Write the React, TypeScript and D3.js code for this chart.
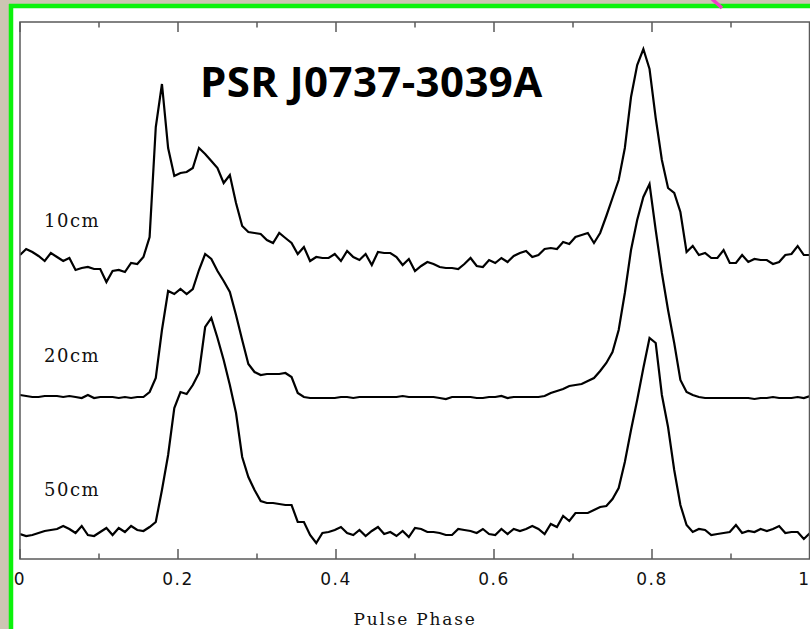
import React from "react";
import * as d3 from "d3";

// Pulse profiles of PSR J0737-3039A (arbitrary intensity units, stacked), 129 phase bins 0..1
const profile10cm = [
  304,310,307,303,298,306,302,298,301,289,
  291,292,290,290,277,288,289,287,296,295,
  302,322,432,475,411,383,386,387,391,411,
  405,398,391,376,384,356,333,327,326,325,
  319,316,326,321,316,305,312,298,302,301,
  301,305,298,308,302,299,305,294,307,306,
  306,302,294,300,288,293,297,295,292,291,
  291,290,295,301,293,292,299,296,301,297,
  303,306,308,302,304,310,311,310,317,315,
  322,324,326,316,326,343,361,379,411,462,
  494,510,490,441,399,371,366,347,307,313,
  304,306,301,301,309,296,296,304,297,300,
  299,299,295,297,304,305,313,304,304,
];
const profile20cm = [
  164,163,162,162,163,163,163,162,163,162,
  161,164,161,162,162,162,161,162,161,162,
  162,167,181,229,268,265,270,265,270,289,
  305,300,288,278,267,244,219,195,187,184,
  185,185,185,186,182,166,162,161,161,161,
  161,161,162,162,161,162,162,162,162,162,
  162,162,163,162,162,162,162,162,161,160,
  162,162,162,162,161,161,162,162,163,161,
  162,162,162,162,162,163,166,168,170,173,
  174,175,178,181,188,196,207,229,266,309,
  339,362,375,329,286,249,216,179,167,164,
  162,161,161,161,161,161,161,161,161,160,
  161,161,162,161,161,161,162,161,163,
];
const profile50cm = [
  25,23,24,26,28,29,30,33,30,26,
  33,24,23,27,31,24,31,27,33,29,
  28,32,37,69,104,151,167,165,174,186,
  232,241,221,199,174,146,102,82,69,58,
  56,56,55,54,54,37,37,24,16,26,
  27,29,32,26,24,29,23,28,32,25,
  27,23,28,22,31,30,27,27,26,24,
  24,30,29,28,26,30,25,24,30,25,
  30,28,30,33,30,25,35,32,43,38,
  46,46,46,49,52,53,60,71,97,129,
  159,191,221,216,164,132,89,54,34,27,
  30,29,24,25,26,27,34,26,28,27,
  30,28,30,33,26,27,27,20,26,
];

const seriesLabels = ["10cm", "20cm", "50cm"];
const majorTicks = [0, 0.2, 0.4, 0.6, 0.8, 1];
const majorTickLabels = ["0", "0.2", "0.4", "0.6", "0.8", "1"];
const minorTicks = [0.1, 0.3, 0.5, 0.7, 0.9];
const title = "PSR J0737-3039A";
const xAxisTitle = "Pulse Phase";

export default function App() {
  const W = 810;
  const H = 629;
  const left = 20, right = 810, top = 22, bottom = 559;
  const x = d3.scaleLinear().domain([0, 1]).range([left, right]);
  const y = d3.scaleLinear().domain([0, 537]).range([bottom, top]);
  const profiles = [profile10cm, profile20cm, profile50cm];
  const n = profile10cm.length;
  const line = d3
    .line<number>()
    .x((_, i) => x(i / (n - 1)))
    .y((d) => y(d));
  const labelY = [227, 362, 496];
  const frameColor = "#5a5a5a";

  return (
    <svg
      width={W}
      height={H}
      style={{ position: "absolute", left: 0, top: 0, display: "block" }}
    >
      <defs>
        <clipPath id="plotClip">
          <rect x={left} y={top} width={right - left} height={bottom - top} />
        </clipPath>
      </defs>
      {/* slide background */}
      <rect x={0} y={0} width={W} height={H} fill="#cdc5b3" />
      <rect x={11} y={6} width={W - 11} height={H - 6} fill="#ffffff" />
      {/* green frame */}
      <line x1={11} y1={4} x2={11} y2={H} stroke="#0bf20b" strokeWidth={4.5} />
      <line x1={9} y1={6} x2={W} y2={6} stroke="#0bf20b" strokeWidth={4.5} />
      {/* magenta stroke */}
      <line x1={712} y1={-1} x2={722} y2={8} stroke="#f03cc8" strokeWidth={3.5} />

      {/* profiles */}
      <g clipPath="url(#plotClip)">
        {profiles.map((p, k) => (
          <path
            key={k}
            d={line(p) || ""}
            fill="none"
            stroke="#000"
            strokeWidth={2.2}
            strokeLinejoin="miter"
          />
        ))}
      </g>

      {/* frame */}
      <rect
        x={left}
        y={top}
        width={right - left - 0.5}
        height={bottom - top}
        fill="none"
        stroke={frameColor}
        strokeWidth={1.5}
      />
      {majorTicks.map((t) => (
        <g key={"M" + t}>
          <line x1={x(t)} x2={x(t)} y1={bottom} y2={bottom - 10} stroke={frameColor} strokeWidth={1.5} />
          <line x1={x(t)} x2={x(t)} y1={top} y2={top + 10} stroke={frameColor} strokeWidth={1.5} />
        </g>
      ))}
      {minorTicks.map((t) => (
        <g key={"m" + t}>
          <line x1={x(t)} x2={x(t)} y1={bottom} y2={bottom - 5.5} stroke={frameColor} strokeWidth={1.5} />
          <line x1={x(t)} x2={x(t)} y1={top} y2={top + 5.5} stroke={frameColor} strokeWidth={1.5} />
        </g>
      ))}
      {majorTicks.map((t, i) => {
        const last = i === majorTicks.length - 1;
        return (
          <text
            key={"l" + t}
            x={last ? x(t) - 1 : x(t)}
            y={585}
            textAnchor={last ? "end" : "middle"}
            fontFamily="'DejaVu Sans', sans-serif"
            fontSize={17}
            letterSpacing={last ? 0 : 1.5}
            fill="#111"
          >
            {majorTickLabels[i]}
          </text>
        );
      })}
      <text
        x={415}
        y={625}
        textAnchor="middle"
        fontFamily="'DejaVu Serif', serif"
        fontSize={17}
        letterSpacing={1.8}
        fill="#111"
      >
        {xAxisTitle}
      </text>
      {seriesLabels.map((s, i) => (
        <text
          key={s}
          x={44}
          y={labelY[i]}
          fontFamily="'DejaVu Serif', serif"
          fontSize={18}
          letterSpacing={1.5}
          fill="#111"
        >
          {s}
        </text>
      ))}
      <text
        x={200}
        y={97}
        fontFamily="'Open Sans', sans-serif"
        fontWeight={700}
        fontSize={42}
        letterSpacing={0.4}
        fill="#000"
      >
        {title}
      </text>
    </svg>
  );
}
